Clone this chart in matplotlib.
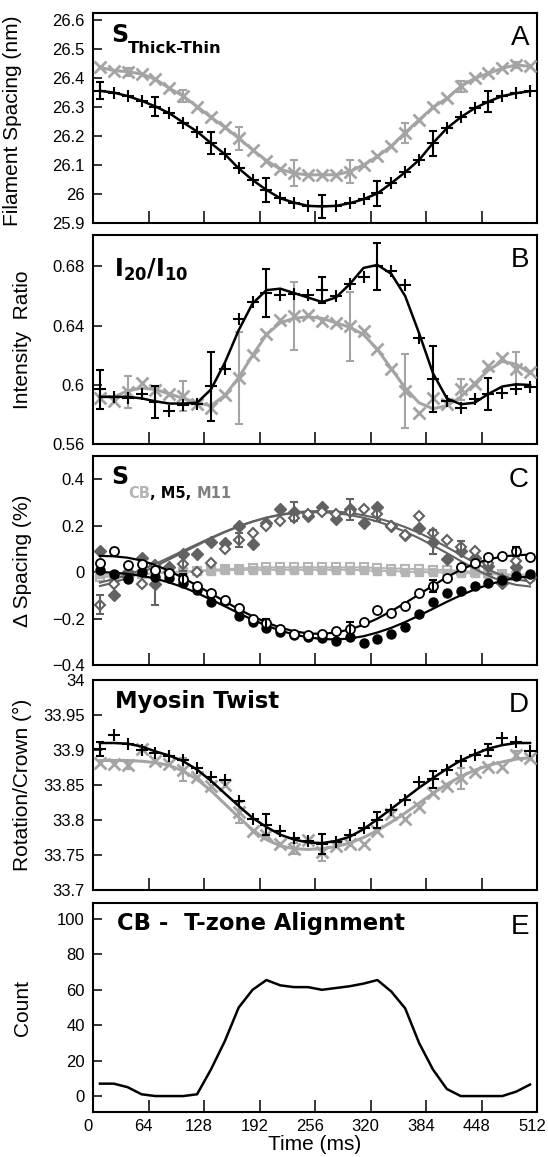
import matplotlib
matplotlib.use("Agg")
import matplotlib.pyplot as plt
import matplotlib.transforms as mtransforms
import numpy as np

plt.rcParams['font.family'] = ['Liberation Sans', 'DejaVu Sans']
plt.rcParams['axes.unicode_minus'] = True

# time bins (ms)
time_ms = [8, 24, 40, 56, 72, 88, 104, 120, 136, 152, 168, 184, 200, 216, 232, 248,
           264, 280, 296, 312, 328, 344, 360, 376, 392, 408, 424, 440, 456, 472, 488, 504]

# ---- panel A : thick-thin filament spacing (nm)
a_black = [26.356, 26.350, 26.338, 26.322, 26.302, 26.279, 26.247, 26.216, 26.176, 26.138, 26.089,
           26.049, 26.015, 25.986, 25.971, 25.960, 25.958, 25.960, 25.969, 25.983, 26.003, 26.038,
           26.076, 26.118, 26.176, 26.227, 26.265, 26.296, 26.319, 26.338, 26.348, 26.355]
a_black_err_idx = [0, 4, 8, 12, 16, 20, 24, 28]
a_black_err = [0.029, 0.034, 0.037, 0.042, 0.041, 0.044, 0.043, 0.037]
a_grey = [26.437, 26.426, 26.422, 26.414, 26.396, 26.365, 26.338, 26.302, 26.265, 26.231, 26.193,
          26.153, 26.116, 26.086, 26.072, 26.067, 26.067, 26.067, 26.078, 26.101, 26.130, 26.166,
          26.212, 26.256, 26.299, 26.330, 26.371, 26.399, 26.416, 26.434, 26.445, 26.440]
a_grey_err_idx = [2, 6, 10, 14, 18, 22, 26, 30]
a_grey_err = [0.014, 0.022, 0.04, 0.045, 0.04, 0.034, 0.02, 0.011]

# ---- panel B : I20/I10
b_black = [0.597, 0.592, 0.5914, 0.5937, 0.5885, 0.5824, 0.5862, 0.587, 0.599, 0.611, 0.6445,
           0.6558, 0.662, 0.6608, 0.6615, 0.6608, 0.664, 0.6603, 0.6682, 0.6732, 0.680, 0.6766,
           0.6676, 0.6314, 0.604, 0.5891, 0.5846, 0.5907, 0.594, 0.5948, 0.5971, 0.5985]
b_black_fit = [0.592, 0.592, 0.592, 0.591, 0.589, 0.5875, 0.5875, 0.588, 0.597, 0.615, 0.637,
               0.655, 0.664, 0.665, 0.662, 0.659, 0.656, 0.659, 0.668, 0.679, 0.681, 0.675,
               0.660, 0.635, 0.608, 0.591, 0.587, 0.588, 0.594, 0.599, 0.6005, 0.600]
b_black_err_idx = [0, 4, 8, 12, 16, 20, 24, 28]
b_black_err = [0.013, 0.0105, 0.023, 0.016, 0.009, 0.016, 0.022, 0.011]
b_grey = [0.5914, 0.5891, 0.5953, 0.6016, 0.5966, 0.5937, 0.5925, 0.587, 0.5846, 0.593, 0.6045,
          0.620, 0.6344, 0.644, 0.6463, 0.6472, 0.6434, 0.6418, 0.6395, 0.6366, 0.6242, 0.6111,
          0.596, 0.5812, 0.5914, 0.5869, 0.597, 0.6005, 0.6129, 0.6185, 0.611, 0.6086]
b_grey_fit = [0.5925, 0.592, 0.596, 0.598, 0.597, 0.594, 0.591, 0.588, 0.586, 0.593, 0.605,
              0.620, 0.634, 0.642, 0.645, 0.646, 0.645, 0.642, 0.639, 0.634, 0.624, 0.611,
              0.598, 0.588, 0.584, 0.586, 0.592, 0.601, 0.610, 0.616, 0.614, 0.608]
b_grey_err_idx = [2, 6, 10, 14, 18, 22, 26, 30]
b_grey_err = [0.011, 0.01, 0.031, 0.023, 0.023, 0.025, 0.007, 0.011]

# ---- panel C : delta spacing (%)
c_m5_fill = [0.01, -0.01, -0.03, 0.0, -0.02, -0.025, -0.045, -0.075, -0.13, -0.125, -0.19,
             -0.215, -0.24, -0.26, -0.27, -0.28, -0.285, -0.295, -0.28, -0.305, -0.29, -0.265,
             -0.235, -0.18, -0.13, -0.09, -0.08, -0.06, -0.045, -0.035, -0.015, -0.01]
c_m5_fill_fit = [0.0, -0.002, -0.008, -0.016, -0.028, -0.045, -0.065, -0.09, -0.118, -0.147,
                 -0.177, -0.205, -0.23, -0.252, -0.269, -0.281, -0.288, -0.29, -0.286, -0.276,
                 -0.26, -0.24, -0.215, -0.187, -0.158, -0.128, -0.1, -0.075, -0.054, -0.037,
                 -0.025, -0.018]
c_m5_open = [0.04, 0.09, 0.03, 0.035, 0.01, -0.005, -0.03, -0.06, -0.09, -0.12, -0.155, -0.2,
             -0.22, -0.245, -0.265, -0.27, -0.265, -0.255, -0.245, -0.215, -0.165, -0.175,
             -0.145, -0.09, -0.06, -0.025, 0.02, 0.04, 0.065, 0.07, 0.09, 0.065]
c_m5_open_fit = [0.07, 0.068, 0.062, 0.05, 0.03, 0.005, -0.025, -0.058, -0.092, -0.126, -0.16,
                 -0.19, -0.217, -0.239, -0.255, -0.264, -0.266, -0.26, -0.247, -0.227, -0.2,
                 -0.168, -0.133, -0.096, -0.058, -0.022, 0.01, 0.036, 0.055, 0.067, 0.073, 0.075]
c_m11_fill = [0.09, -0.1, 0.0, 0.06, -0.05, 0.02, 0.08, 0.08, 0.13, 0.125, 0.2, 0.12, 0.21,
              0.27, 0.26, 0.24, 0.28, 0.23, 0.27, 0.21, 0.28, 0.2, 0.16, 0.19, 0.13, 0.055,
              0.09, 0.06, 0.025, -0.045, 0.02, -0.02]
c_m11_fill_fit = [-0.06, -0.045, -0.025, -0.002, 0.025, 0.055, 0.085, 0.115, 0.145, 0.172,
                  0.196, 0.217, 0.234, 0.246, 0.254, 0.258, 0.258, 0.254, 0.246, 0.234, 0.218,
                  0.198, 0.174, 0.146, 0.115, 0.082, 0.048, 0.015, -0.015, -0.04, -0.055, -0.062]
c_m11_open = [-0.14, -0.05, -0.02, -0.05, 0.03, 0.0, 0.035, 0.0, 0.04, 0.1, 0.14, 0.17, 0.2,
              0.22, 0.235, 0.25, 0.26, 0.25, 0.26, 0.27, 0.25, 0.2, 0.16, 0.24, 0.17, 0.14,
              0.11, 0.09, 0.04, -0.03, 0.05, -0.03]
c_m11_open_fit = [-0.045, -0.03, -0.012, 0.01, 0.035, 0.063, 0.092, 0.12, 0.148, 0.174, 0.198,
                  0.218, 0.235, 0.248, 0.257, 0.262, 0.263, 0.261, 0.255, 0.245, 0.232, 0.215,
                  0.194, 0.169, 0.14, 0.108, 0.074, 0.04, 0.01, -0.015, -0.032, -0.04]
c_cb_fill = [-0.01, -0.012, -0.008, -0.01, -0.005, 0.0, 0.002, 0.005, 0.005, 0.008, 0.01, 0.01,
             0.01, 0.01, 0.01, 0.01, 0.01, 0.01, 0.01, 0.008, 0.005, 0.005, 0.002, 0.0, 0.0,
             -0.002, -0.005, -0.005, -0.008, -0.01, -0.01, -0.012]
c_cb_open = [-0.02, -0.02, -0.015, -0.01, -0.005, 0.0, 0.0, 0.005, 0.01, 0.012, 0.015, 0.018,
             0.02, 0.02, 0.02, 0.02, 0.02, 0.02, 0.02, 0.02, 0.018, 0.015, 0.015, 0.012, 0.01,
             0.008, 0.005, 0.0, -0.005, -0.01, -0.015, -0.02]

# ---- panel D : myosin twist (deg / crown)
d_black = [33.901, 33.922, 33.908, 33.900, 33.895, 33.891, 33.886, 33.875, 33.862, 33.857,
           33.827, 33.802, 33.793, 33.785, 33.774, 33.770, 33.766, 33.768, 33.778, 33.789,
           33.800, 33.815, 33.828, 33.855, 33.858, 33.872, 33.885, 33.893, 33.900, 33.917,
           33.912, 33.898]
d_black_fit = [33.910, 33.910, 33.909, 33.905, 33.898, 33.892, 33.884, 33.872, 33.856, 33.838,
               33.820, 33.803, 33.790, 33.779, 33.772, 33.768, 33.767, 33.770, 33.776, 33.787,
               33.801, 33.816, 33.831, 33.846, 33.860, 33.873, 33.885, 33.894, 33.902, 33.907,
               33.910, 33.910]
d_black_err_idx = [0, 12, 16, 20, 24, 28]
d_black_err = [0.01, 0.015, 0.014, 0.012, 0.012, 0.008]
d_grey = [33.881, 33.880, 33.879, 33.902, 33.885, 33.880, 33.872, 33.862, 33.848, 33.850,
          33.811, 33.785, 33.778, 33.766, 33.759, 33.771, 33.754, 33.763, 33.766, 33.766,
          33.785, 33.809, 33.802, 33.819, 33.838, 33.848, 33.860, 33.869, 33.876, 33.876,
          33.893, 33.888]
d_grey_fit = [33.885, 33.885, 33.885, 33.884, 33.882, 33.878, 33.870, 33.858, 33.842, 33.823,
              33.804, 33.786, 33.772, 33.763, 33.759, 33.758, 33.759, 33.762, 33.767, 33.775,
              33.785, 33.797, 33.810, 33.824, 33.838, 33.851, 33.862, 33.871, 33.878, 33.883,
              33.887, 33.889]
d_grey_err_idx = [2, 6, 10, 14, 16, 26, 30]
d_grey_err = [0.006, 0.016, 0.015, 0.008, 0.012, 0.015, 0.006]

# ---- panel E : CB - T-zone alignment count
e_count = [7, 7, 5, 1, 0, 0, 0, 1, 15, 31, 50, 60, 65.5, 62.5, 61.5, 61.5, 60, 61, 62, 63.5,
           65.5, 59, 49.5, 30, 15, 4, 0, 0, 0, 0, 2.5, 6.5]

BLACK = 'black'
GREY = '#a4a4a4'
LIGHT = '#b4b4b4'
DARK = '#626262'

fig = plt.figure(figsize=(5.48, 11.57), dpi=100)
left, width = 93 / 548, 444 / 548
tops = [13.3, 235.3, 456, 680, 903]
heights = [210, 209, 209, 210, 209]
axes = []
for top, h in zip(tops, heights):
    ax = fig.add_axes([left, 1 - (top + h) / 1157, width, h / 1157])
    axes.append(ax)

t = np.array(time_ms)


def style(ax, show_x=False):
    ax.set_xlim(0, 512)
    ax.set_xticks([0, 64, 128, 192, 256, 320, 384, 448, 512])
    ax.tick_params(axis='x', direction='in', length=8.5, width=1.1, top=False,
                   labelsize=12, pad=5, labelbottom=show_x)
    ax.tick_params(axis='y', direction='in', length=6.5, width=1.1, right=False,
                   labelsize=12, pad=6)
    for s in ax.spines.values():
        s.set_linewidth(1.5)


def errs(ax, idx, vals, err, color):
    ax.errorbar(t[idx], np.array(vals)[idx], yerr=err, fmt='none', ecolor=color,
                elinewidth=1.5, capsize=3, capthick=1.5, zorder=4)


def letter(ax, s):
    ax.text(0.982, 0.85, s, transform=ax.transAxes, ha='right', va='baseline',
            fontsize=20, family='Liberation Sans')


YLAB = 15

# A
ax = axes[0]
ax.plot(t, a_grey, color=GREY, lw=2.2, marker='x', ms=8, mew=2, zorder=3)
errs(ax, a_grey_err_idx, a_grey, a_grey_err, GREY)
ax.plot(t, a_black, color=BLACK, lw=1.8, marker='+', ms=9, mew=1.5, zorder=5)
errs(ax, a_black_err_idx, a_black, a_black_err, BLACK)
ax.set_ylim(25.9, 26.623)
ax.set_yticks([25.9, 26.0, 26.1, 26.2, 26.3, 26.4, 26.5, 26.6])
ax.set_yticklabels(['25.9', '26', '26.1', '26.2', '26.3', '26.4', '26.5', '26.6'])
ax.set_ylabel('Filament Spacing (nm)', fontsize=YLAB)
ax.yaxis.set_label_coords(-0.16, 0.49)
style(ax)
letter(ax, 'A')
ax.text(0.04, 0.865, 'S', transform=ax.transAxes, fontsize=17, fontweight='bold',
        family='DejaVu Sans', va='baseline')
ax.text(0.079, 0.81, 'Thick-Thin', transform=ax.transAxes, fontsize=11.8,
        fontweight='bold', family='DejaVu Sans', va='baseline')

# B
ax = axes[1]
ax.plot(t, b_grey_fit, color=GREY, lw=2.2, zorder=3)
ax.plot(t, b_grey, ls='none', color=GREY, marker='x', ms=8, mew=2, zorder=3)
errs(ax, b_grey_err_idx, b_grey, b_grey_err, GREY)
ax.plot(t, b_black_fit, color=BLACK, lw=1.8, zorder=5)
ax.plot(t, b_black, ls='none', color=BLACK, marker='+', ms=9, mew=1.5, zorder=5)
errs(ax, b_black_err_idx, b_black, b_black_err, BLACK)
ax.set_ylim(0.56, 0.701)
ax.set_yticks([0.56, 0.60, 0.64, 0.68])
ax.set_yticklabels(['0.56', '0.6', '0.64', '0.68'])
ax.set_ylabel('Intensity  Ratio', fontsize=YLAB)
ax.yaxis.set_label_coords(-0.138, 0.5)
style(ax)
letter(ax, 'B')
ax.text(0.047, 0.80, r'$\mathbf{I_{20}/I_{10}}$', transform=ax.transAxes, fontsize=17,
        va='baseline')

# C
ax = axes[2]
ax.plot(t, c_cb_open, color=LIGHT, lw=1.5, marker='s', ms=6, mfc='white', mec=LIGHT,
        mew=1.5, zorder=2)
ax.plot(t, c_cb_fill, color=LIGHT, lw=1.5, marker='s', ms=6, zorder=2)
ax.plot(t, c_m11_fill_fit, color=DARK, lw=1.5, zorder=3)
ax.plot(t, c_m11_open_fit, color=DARK, lw=1.5, zorder=3)
ax.plot(t, c_m11_fill, ls='none', marker='D', ms=6, color=DARK, zorder=3)
ax.plot(t, c_m11_open, ls='none', marker='D', ms=5.5, mfc='white', mec=DARK, mew=1.5,
        zorder=3)
errs(ax, [0, 6, 10, 20, 26], c_m11_open, [0.04, 0.03, 0.03, 0.03, 0.025], DARK)
errs(ax, [4, 14, 18, 24, 28], c_m11_fill, [0.09, 0.04, 0.045, 0.05, 0.035], DARK)
ax.plot(t, c_m5_fill_fit, color=BLACK, lw=1.6, zorder=4)
ax.plot(t, c_m5_open_fit, color=BLACK, lw=1.6, zorder=4)
ax.plot(t, c_m5_fill, ls='none', marker='o', ms=6.5, color=BLACK, zorder=4)
ax.plot(t, c_m5_open, ls='none', marker='o', ms=6.5, mfc='white', mec=BLACK, mew=1.3,
        zorder=4)
errs(ax, [6, 12, 18, 24, 30], c_m5_open, [0.02, 0.02, 0.03, 0.025, 0.02], BLACK)
ax.set_ylim(-0.4, 0.5)
ax.set_yticks([-0.4, -0.2, 0, 0.2, 0.4])
ax.set_yticklabels(['\u22120.4', '\u22120.2', '0', '0.2', '0.4'])
ax.set_ylabel('\u0394 Spacing (%)', fontsize=YLAB)
ax.yaxis.set_label_coords(-0.138, 0.5)
style(ax)
letter(ax, 'C')
ax.text(0.04, 0.866, 'S', transform=ax.transAxes, fontsize=17, fontweight='bold',
        family='DejaVu Sans', va='baseline')
t1 = ax.text(0.079, 0.80, 'CB', transform=ax.transAxes, fontsize=10.5, fontweight='bold',
             family='DejaVu Sans', va='baseline', color=LIGHT)
t2 = ax.annotate(', M5, ', xy=(1, 0), xycoords=t1, fontsize=10.5, fontweight='bold',
                 family='DejaVu Sans', va='bottom', color=BLACK)
ax.annotate('M11', xy=(1, 0), xycoords=t2, fontsize=10.5, fontweight='bold',
            family='DejaVu Sans', va='bottom', color='#808080')

# D
ax = axes[3]
ax.plot(t, d_grey_fit, color=GREY, lw=2.2, zorder=3)
ax.plot(t, d_grey, ls='none', color=GREY, marker='x', ms=8, mew=2, zorder=3)
errs(ax, d_grey_err_idx, d_grey, d_grey_err, GREY)
ax.plot(t, d_black_fit, color=BLACK, lw=1.8, zorder=5)
ax.plot(t, d_black, ls='none', color=BLACK, marker='+', ms=9, mew=1.5, zorder=5)
errs(ax, d_black_err_idx, d_black, d_black_err, BLACK)
ax.set_ylim(33.7, 34.0)
ax.set_yticks([33.7, 33.75, 33.8, 33.85, 33.9, 33.95, 34.0])
ax.set_yticklabels(['33.7', '33.75', '33.8', '33.85', '33.9', '33.95', '34'])
ax.set_ylabel('Rotation/Crown (\u00b0)', fontsize=YLAB)
ax.yaxis.set_label_coords(-0.138, 0.5)
style(ax)
letter(ax, 'D')
ax.text(0.05, 0.867, 'Myosin Twist', transform=ax.transAxes, fontsize=16.3,
        fontweight='bold', family='DejaVu Sans', va='baseline')

# E
ax = axes[4]
ax.plot(t, e_count, color=BLACK, lw=1.8)
ax.set_ylim(-9, 109)
ax.set_yticks([0, 20, 40, 60, 80, 100])
ax.set_ylabel('Count', fontsize=YLAB)
ax.yaxis.set_label_coords(-0.138, 0.5)
style(ax, show_x=True)
letter(ax, 'E')
ax.text(0.054, 0.87, 'CB -  T-zone Alignment', transform=ax.transAxes, fontsize=16.3,
        fontweight='bold', family='DejaVu Sans', va='baseline')
ax.set_xlabel('Time (ms)', fontsize=YLAB, labelpad=1)
# tick labels sit a few pixels left of their ticks in the original
shift = mtransforms.ScaledTranslation(-5 / 100, 0, fig.dpi_scale_trans)
for lab in ax.get_xticklabels():
    lab.set_transform(lab.get_transform() + shift)

fig.savefig('out.png', dpi=100)
